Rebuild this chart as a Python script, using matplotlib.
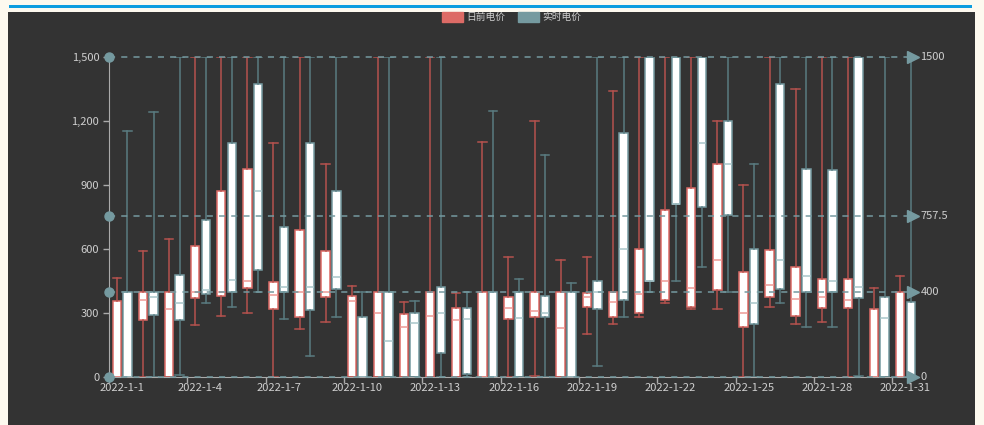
import matplotlib
matplotlib.use('Agg')
import matplotlib.pyplot as plt
from matplotlib.patches import Rectangle, Patch
from matplotlib.ticker import FixedLocator, FuncFormatter

plt.rcParams['font.family'] = ['Noto Sans CJK SC', 'DejaVu Sans']

# ---------------- data ----------------
dates = ['2022-1-%d' % d for d in range(1, 32)]
series_names = ['日前电价', '实时电价']

# [min, Q1, median, Q3, max]
day_ahead = [
    [0, 0, 0, 359, 467], [0, 269, 362, 400, 594], [0, 0, 322, 400, 648],
    [244, 370, 400, 614, 1500], [289, 383, 400, 875, 1500], [300, 419, 452, 975, 1500],
    [0, 322, 386, 447, 1100], [225, 284, 400, 691, 1500], [259, 378, 400, 594, 1000],
    [0, 0, 358, 383, 430], [0, 0, 300, 400, 1500], [0, 0, 234, 298, 355],
    [0, 0, 287, 400, 1500], [0, 0, 269, 323, 394], [0, 0, 0, 400, 1102],
    [0, 272, 323, 378, 564], [8, 283, 311, 400, 1202], [0, 0, 233, 400, 550],
    [202, 331, 378, 397, 564], [248, 284, 352, 400, 1344], [284, 300, 389, 600, 1500],
    [347, 362, 453, 784, 1500], [320, 328, 420, 886, 1500], [320, 411, 550, 1000, 1202],
    [0, 237, 300, 492, 902], [331, 378, 431, 595, 1500], [250, 289, 366, 519, 1350],
    [259, 325, 378, 459, 1500], [0, 325, 362, 459, 1500], [0, 0, 0, 320, 420],
    [0, 0, 0, 400, 477],
]
real_time = [
    [0, 0, 0, 400, 1155], [0, 292, 378, 400, 1242], [11, 269, 350, 480, 1500],
    [350, 389, 409, 736, 1500], [330, 400, 456, 1100, 1500], [400, 502, 875, 1375, 1500],
    [272, 400, 425, 706, 1500], [102, 316, 425, 1100, 1500], [284, 412, 472, 875, 1500],
    [0, 0, 0, 281, 400], [0, 0, 170, 400, 1500], [0, 0, 253, 300, 359],
    [0, 112, 300, 422, 1500], [0, 17, 272, 323, 400], [0, 0, 0, 400, 1250],
    [0, 0, 277, 400, 459], [0, 281, 300, 381, 1042], [0, 0, 0, 400, 441],
    [53, 322, 400, 450, 1500], [281, 362, 600, 1147, 1500], [400, 450, 450, 1500, 1500],
    [450, 812, 812, 1500, 1500], [519, 800, 1100, 1500, 1500], [400, 762, 1000, 1202, 1500],
    [0, 250, 347, 600, 1000], [350, 416, 550, 1375, 1500], [236, 400, 477, 975, 1500],
    [236, 400, 452, 972, 1500], [8, 372, 422, 1500, 1500], [0, 0, 277, 378, 1500],
    [0, 0, 0, 353, 1500],
]
mark_values = [1500, 757.5, 400, 0]
y_ticks = [0, 300, 600, 900, 1200, 1500]

# ---------------- style ----------------
W, H = 984, 425
BG = '#333333'
OUTER = '#fdf9ef'
RED, RED_W, RED_MED = '#dd6b66', '#b5524e', '#ee9a96'
TEAL, TEAL_W, TEAL_MED = '#759aa0', '#5a7b80', '#a9c6ca'
TXT = '#cfcfcf'

fig = plt.figure(figsize=(W / 100, H / 100), dpi=100)
fig.patch.set_facecolor(OUTER)
fig.add_artist(Rectangle((8 / W, 0), (975 - 8) / W, (425 - 12) / H,
                         transform=fig.transFigure, facecolor=BG, edgecolor='none', zorder=0))
fig.add_artist(Rectangle((9 / W, (425 - 8) / H), (972 - 9) / W, 3 / H,
                         transform=fig.transFigure, facecolor='#0d9de0', edgecolor='none', zorder=0))

left_px, right_px, top_px, bot_px = 109.05, 918.5, 57.3, 377.3
ax = fig.add_axes([left_px / W, (H - bot_px) / H, (right_px - left_px) / W, (bot_px - top_px) / H])
ax.set_facecolor('none')
ax.set_xlim(-0.5, len(dates) - 0.5)
ax.set_ylim(0, 1500)


def to_stats(rows):
    return [dict(whislo=r[0], q1=r[1], med=r[2], q3=r[3], whishi=r[4], fliers=[]) for r in rows]


off, bw = 0.205, 0.325
n = len(dates)
for rows, sign, ec, wc, mc in [(day_ahead, -1, RED, RED_W, RED_MED),
                               (real_time, 1, TEAL, TEAL_W, TEAL_MED)]:
    ax.bxp(to_stats(rows), positions=[i + sign * off for i in range(n)], widths=bw,
           capwidths=bw, patch_artist=True, showfliers=False, manage_ticks=False,
           boxprops=dict(facecolor='white', edgecolor=ec, linewidth=1.1),
           whiskerprops=dict(color=wc, linewidth=1.1),
           capprops=dict(color=wc, linewidth=1.1),
           medianprops=dict(color=mc, linewidth=1.1))

# mark lines
arrow_x = n - 0.5 - 5.5 / 26.11
for v in mark_values:
    ax.plot([-0.5, arrow_x], [v, v], ls=(0, (4, 4)), color=TEAL, lw=1.1, zorder=6, clip_on=False)
    ax.plot([-0.5], [v], 'o', ms=6.5, color=TEAL, mec=TEAL, zorder=7, clip_on=False)
    ax.plot([arrow_x], [v], '>', ms=8, color=TEAL, mec=TEAL, zorder=7, clip_on=False)
    ax.text(n - 0.5 + 2 / 26.11, v, f'{v:g}', color=TXT, fontsize=8, va='center', ha='left',
            clip_on=False)

# axes styling
for s in ['top', 'right']:
    ax.spines[s].set_visible(False)
ax.spines['left'].set_color('#aaaaaa')
ax.spines['bottom'].set_color('#aaaaaa')
ax.spines['left'].set_zorder(1)

ax.yaxis.set_major_locator(FixedLocator(y_ticks))
ax.yaxis.set_major_formatter(FuncFormatter(lambda v, p: f'{int(v):,}'))
ax.tick_params(axis='y', colors='#aaaaaa', labelcolor=TXT, labelsize=8, length=4, width=1, pad=3)

label_pos = list(range(0, n, 3))
ax.set_xticks(label_pos)
ax.set_xticklabels([dates[i] for i in label_pos])
ax.set_xticks([p - 0.5 for p in label_pos], minor=True)
ax.tick_params(axis='x', which='major', length=0, labelcolor=TXT, labelsize=8, pad=4)
ax.tick_params(axis='x', which='minor', length=4, color='#aaaaaa', width=1)

# legend
handles = [Patch(facecolor=RED, edgecolor=RED), Patch(facecolor=TEAL, edgecolor=TEAL)]
leg = fig.legend(handles, series_names, loc='center', bbox_to_anchor=(512 / W, (H - 17) / H),
                 bbox_transform=fig.transFigure, ncol=2, frameon=False, fontsize=7,
                 handlelength=2.15, handleheight=1.15, handletextpad=0.35, columnspacing=1.3,
                 labelcolor=TXT, borderpad=0)

fig.savefig('out.png', dpi=100, facecolor=fig.get_facecolor())
